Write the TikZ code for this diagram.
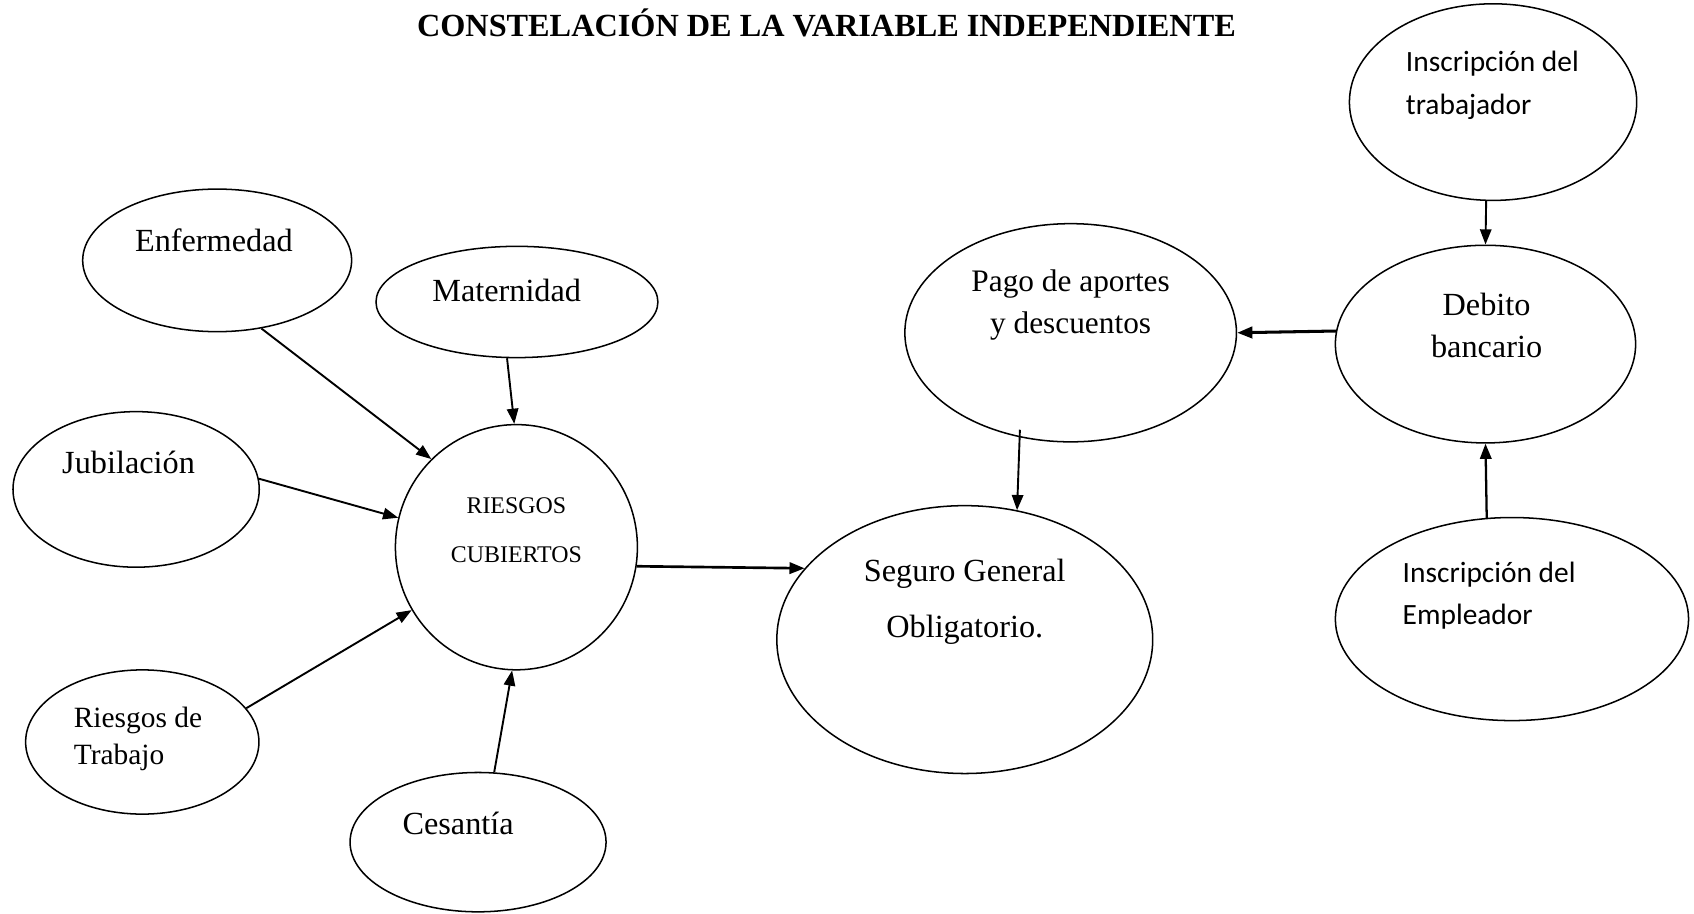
\documentclass[tikz,border=0pt]{standalone}
\usepackage{fontspec}
\setmainfont{Liberation Serif}
\newfontfamily\calibrifont{Carlito}
\usetikzlibrary{shapes.geometric,arrows.meta}
\begin{document}
\begin{tikzpicture}[x=0.02cm,y=-0.02cm,
  ell/.style={draw, ellipse, line width=0.8pt, inner sep=0pt},
  txt/.style={inner sep=0pt, font=\fontsize{17}{22}\selectfont},
  stxt/.style={inner sep=0pt, align=left, font=\calibrifont\fontsize{15.5}{22.5}\selectfont},
  arr/.style={line width=1pt, -{Triangle[length=8pt,width=6pt]}}]
\useasboundingbox (0,0) rectangle (1568,846);
% title
\node[inner sep=0pt, font=\bfseries\fontsize{17}{20}\selectfont] (title) at (765,21) {CONSTELACIÓN DE LA VARIABLE INDEPENDIENTE};
% ellipses
\node[ell, minimum width=4.98cm, minimum height=2.64cm] (enf) at (201,241) {};
\node[ell, minimum width=5.22cm, minimum height=2.06cm] (mat) at (478.5,279.5) {};
\node[ell, minimum width=4.56cm, minimum height=2.88cm] (jub) at (126,453) {};
\node[ell, minimum width=4.48cm, minimum height=4.54cm] (rc) at (478,506.5) {};
\node[ell, minimum width=4.32cm, minimum height=2.67cm] (rt) at (131.7,686.8) {};
\node[ell, minimum width=4.74cm, minimum height=2.58cm] (ces) at (442.5,779.5) {};
\node[ell, minimum width=6.96cm, minimum height=4.96cm] (sg) at (893,592) {};
\node[ell, minimum width=6.14cm, minimum height=4.04cm] (pago) at (991,308) {};
\node[ell, minimum width=5.56cm, minimum height=3.66cm] (deb) at (1375,318.5) {};
\node[ell, minimum width=5.32cm, minimum height=3.64cm] (itr) at (1382,94.5) {};
\node[ell, minimum width=6.54cm, minimum height=3.76cm] (iem) at (1399.5,573) {};
% texts
\node[txt] (tenf) at (198,222) {Enfermedad};
\node[txt] (tmat) at (469,269) {Maternidad};
\node[txt] (tjub) at (119,428) {Jubilación};
\node[inner sep=0pt, align=center, font=\fontsize{12.6}{25.6}\selectfont] (trc) at (478,491) {RIESGOS\\CUBIERTOS};
\node[inner sep=0pt, align=left, anchor=west, font=\fontsize{15.5}{19.4}\selectfont] (trt) at (68,684) {Riesgos de\\Trabajo};
\node[txt] (tces) at (424,762) {Cesantía};
\node[txt, align=center, font=\fontsize{17}{29}\selectfont] (tsg) at (893,557) {Seguro General\\Obligatorio.};
\node[txt, align=center, font=\fontsize{16.5}{22}\selectfont] (tpago) at (991,282) {Pago de aportes\\y descuentos};
\node[txt, align=center, font=\fontsize{17}{22}\selectfont] (tdeb) at (1376,301) {Debito\\bancario};
\node[stxt, anchor=west] (titr) at (1301,79) {Inscripción del\\trabajador};
\node[stxt, anchor=west, font=\calibrifont\fontsize{15.5}{22.2}\selectfont] (tiem) at (1298,551) {Inscripción del\\Empleador};
% arrows
\draw[arr] (enf.-57) -- (rc.134);
\draw[arr] (mat.-100) -- (rc.91);
\draw[arr] (jub.5) -- (rc.166);
\draw[arr] (rt.18) -- (rc.211);
\draw[arr] (ces.77) -- (rc.-92);
\draw[arr, line width=1.4pt] (rc.-9) -- (sg.156);
\draw[arr, shorten <=-4pt] (pago.-116) -- (sg.68);
\draw[arr, line width=1.6pt] (deb.175) -- (pago.0);
\draw[arr] (itr.-94) -- (deb.90);
\draw[arr, line width=1.2pt] (iem.104) -- (deb.-90);
\end{tikzpicture}
\end{document}
